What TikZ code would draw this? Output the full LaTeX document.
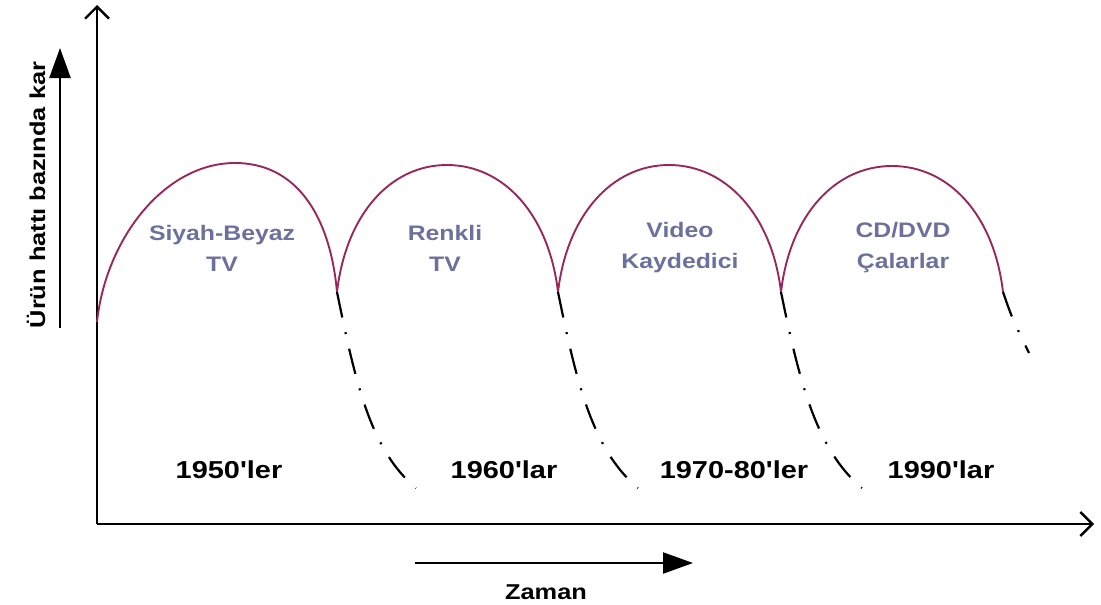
\documentclass[tikz,border=0pt]{standalone}
\usepackage{fontspec}
\setmainfont{Liberation Sans}
\newfontfamily\labfont[FakeStretch=1.18]{Liberation Sans}
\usetikzlibrary{arrows.meta}
\definecolor{arccol}{RGB}{152,40,92}
\definecolor{prodcol}{RGB}{108,112,156}
\tikzset{
  axis/.style={line width=2.4pt, -{Straight Barb[length=12pt,width=24pt,line width=2.4pt]}},
  guide/.style={line width=2.4pt, -{Triangle[length=30pt,width=21pt]}},
  life/.style={draw=arccol, line width=1.9pt},
  decline/.style={line width=2.2pt, dash pattern=on 26pt off 15pt on 2pt off 15pt},
  product/.style={font=\labfont\bfseries\fontsize{21}{31}\selectfont, text=prodcol, align=center, inner sep=0pt},
  decade/.style={font=\labfont\bfseries\fontsize{24.5}{30}\selectfont, inner sep=0pt},
  caption/.style={font=\labfont\bfseries\fontsize{21.5}{26}\selectfont, inner sep=0pt}
}
\begin{document}
\begin{tikzpicture}[x=1pt,y=-1pt]
\useasboundingbox (0,0) rectangle (1101,605);
% axes
\coordinate (O) at (97,524);
\coordinate (ytop) at (97,5);
\coordinate (xend) at (1094,524);
\draw[axis] (O) -- (ytop);
\draw[axis] (O) -- (xend);
% guide arrows
\coordinate (gyb) at (60,328);
\coordinate (gyt) at (60,48);
\draw[guide] (gyb) -- (gyt);
\node[caption, rotate=90] (ylab) at (36,195) {Ürün hattı bazında kar};
\coordinate (gxl) at (415,563);
\coordinate (gxr) at (693,563);
\draw[guide] (gxl) -- (gxr);
\node[caption] (xlab) at (546,592) {Zaman};
% life-cycle arcs
\coordinate (s0) at (97,322);
\coordinate (c1) at (337,292);
\coordinate (c2) at (558,292);
\coordinate (c3) at (781,292);
\coordinate (c4) at (1003,292);
\draw[life] (s0) .. controls (106,238) and (165,163) .. (235,163)
  .. controls (296,163) and (330,215) .. (c1);
\draw[life] (c1) .. controls (346,215) and (390,165) .. (447,165)
  .. controls (504,165) and (549,215) .. (c2);
\draw[life] (c2) .. controls (567,215) and (612,165) .. (669,165)
  .. controls (726,165) and (772,215) .. (c3);
\draw[life] (c3) .. controls (790,215) and (835,166) .. (892,166)
  .. controls (949,166) and (994,215) .. (c4);
% decline phases
\coordinate (e1) at (416,488);
\coordinate (e2) at (638,488);
\coordinate (e3) at (862,488);
\coordinate (e4) at (1029,353);
\draw[decline] (c1) .. controls (355,380) and (370,450) .. (e1);
\draw[decline] (c2) .. controls (576,380) and (592,450) .. (e2);
\draw[decline] (c3) .. controls (799,380) and (816,450) .. (e3);
\draw[decline] (c4) .. controls (1012,318) .. (e4);
% products
\node[product] (p1) at (222,248) {Siyah-Beyaz\\TV};
\node[product] (p2) at (445,248) {Renkli\\TV};
\node[product] (p3) at (680,248) {Video\\Kaydedici};
\node[product] (p4) at (903,248) {CD/DVD\\Çalarlar};
% decades
\node[decade] (d1) at (229,470) {1950'ler};
\node[decade] (d2) at (504,470) {1960'lar};
\node[decade] (d3) at (734,470) {1970-80'ler};
\node[decade] (d4) at (941,470) {1990'lar};
\end{tikzpicture}
\end{document}
